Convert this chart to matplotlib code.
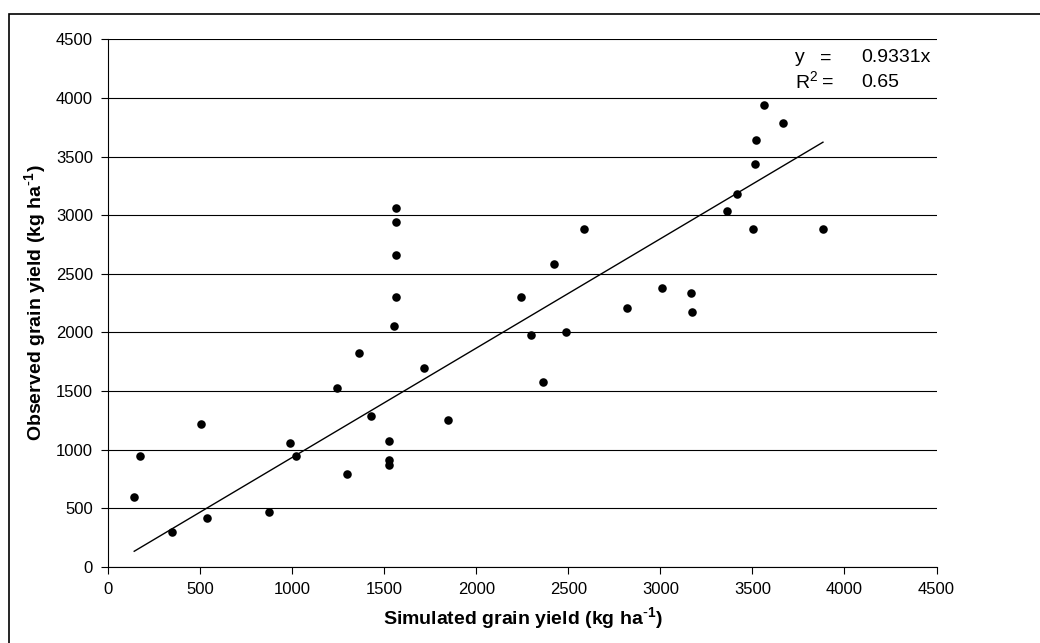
import matplotlib
matplotlib.use("Agg")
import matplotlib.pyplot as plt
from matplotlib.patches import Rectangle
import numpy as np

plt.rcParams['font.family'] = ['Liberation Sans', 'DejaVu Sans']

# simulated (x) vs observed (y) grain yield, kg/ha
simule = [1565, 1565, 1565, 1565, 2243, 3565, 3668, 3520, 3515, 3415,
          3364, 2585, 3505, 3883, 2422, 3011, 3167, 2821, 3172, 1553,
          2296, 1364, 1717, 1243, 1426, 1848, 502, 1525, 988, 171,
          1020, 1525, 1525, 1299, 141, 872, 536, 348, 2488, 2364]
observe = [3063, 2944, 2664, 2303, 2303, 3940, 3790, 3641, 3439, 3180,
           3034, 2884, 2884, 2884, 2587, 2379, 2337, 2209, 2174, 2057,
           1978, 1826, 1695, 1521, 1285, 1248, 1217, 1077, 1055, 943,
           943, 909, 867, 795, 596, 465, 413, 294, 2003, 1576]

pente = 0.9331
r2 = 0.65

ticks = list(range(0, 4501, 500))

fig = plt.figure(figsize=(10.4, 6.43), dpi=100)

# cadre exterieur (bords haut et gauche visibles)
fig.patches.append(Rectangle((9 / 1040, -0.5), 2, 1.5 - 13.5 / 643,
                             transform=fig.transFigure, fill=False,
                             edgecolor='black', linewidth=1.2))

ax = fig.add_axes([0.1041, 0.1187, 0.7964, 0.8199])

ax.scatter(simule, observe, s=38, color='black', zorder=3, linewidths=0)

xl = np.array([min(simule), max(simule)])
ax.plot(xl, pente * xl, color='black', linewidth=1.0, zorder=2)

ax.set_xlim(0, 4500)
ax.set_ylim(0, 4500)
ax.set_xticks(ticks)
ax.set_yticks(ticks)
ax.yaxis.grid(True, color='black', linewidth=0.8)
ax.set_axisbelow(True)

for s in ['top', 'right']:
    ax.spines[s].set_visible(False)
for s in ['left', 'bottom']:
    ax.spines[s].set_color('black')
    ax.spines[s].set_linewidth(0.8)

ax.tick_params(direction='out', length=5, width=0.8, labelsize=12, pad=6)

ax.set_xlabel('Simulated grain yield (kg ha$^{\\mathregular{\\text{-}1}}$)',
              fontsize=14, fontweight='bold', labelpad=6)
ax.set_ylabel('Observed grain yield (kg ha$^{\\mathregular{\\text{-}1}}$)',
              fontsize=14, fontweight='bold', labelpad=5)

tx = ax.transAxes
ax.text(0.829, 0.965, 'y', transform=tx, fontsize=14, va='center')
ax.text(0.859, 0.965, '=', transform=tx, fontsize=14, va='center')
ax.text(0.829, 0.919, 'R$^{\\mathregular{2}}$', transform=tx, fontsize=14,
        va='center')
ax.text(0.862, 0.919, '=', transform=tx, fontsize=14, va='center')
ax.text(0.909, 0.965, '%.4fx' % pente, transform=tx, fontsize=14, va='center')
ax.text(0.909, 0.919, '%.2f' % r2, transform=tx, fontsize=14, va='center')

fig.savefig('out.png', dpi=100)
